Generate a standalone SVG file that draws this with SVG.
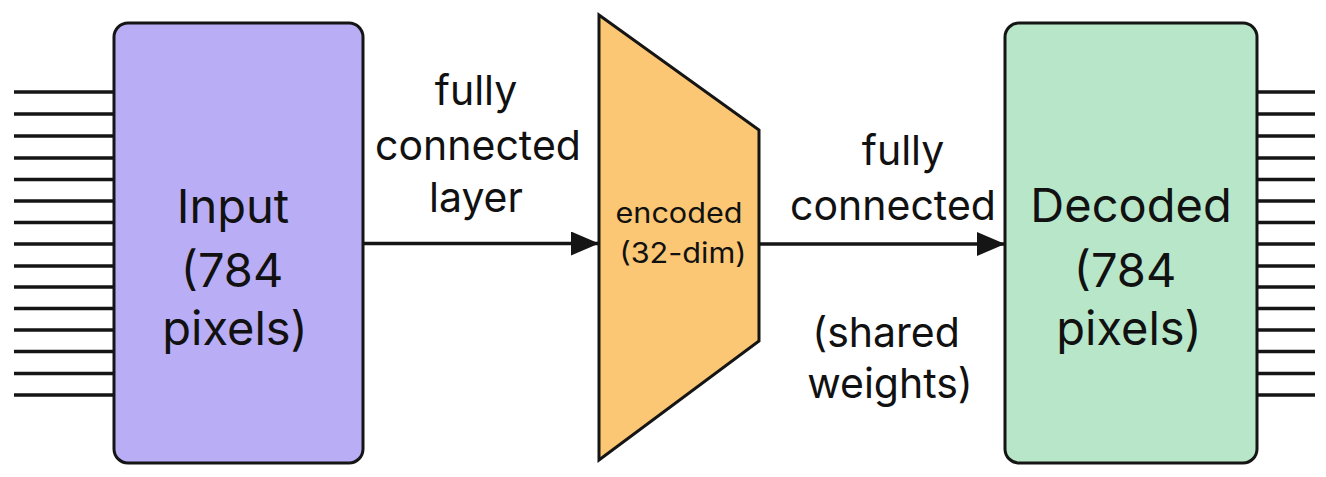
<svg xmlns="http://www.w3.org/2000/svg" width="1326" height="477" viewBox="0 0 1326 477">
<defs>
<style>
.box{stroke:#151515;stroke-width:3}
.pin{stroke:#151515;stroke-width:3.4}
.big{font-family:Inter,"Liberation Sans",sans-serif;font-size:47px;fill:#111;text-anchor:middle}
.lbl{font-family:Inter,"Liberation Sans",sans-serif;font-size:41px;fill:#111;text-anchor:middle}
.sm{font-family:Inter,"Liberation Sans",sans-serif;font-size:28px;fill:#111;text-anchor:middle}
.conn{stroke:#151515;stroke-width:3.4;fill:none}
</style>
<marker id="ah" markerWidth="28" markerHeight="24" viewBox="0 0 28 24" refX="27" refY="12" markerUnits="userSpaceOnUse" orient="auto">
<path d="M0,0 L28,12 L0,24 Z" fill="#151515"/>
</marker>
</defs>
<rect width="1326" height="477" fill="#ffffff"/>
<g id="input">
<g class="pin">
<line x1="14" y1="92" x2="114" y2="92"/>
<line x1="14" y1="114" x2="114" y2="114"/>
<line x1="14" y1="136" x2="114" y2="136"/>
<line x1="14" y1="158" x2="114" y2="158"/>
<line x1="14" y1="179.5" x2="114" y2="179.5"/>
<line x1="14" y1="201" x2="114" y2="201"/>
<line x1="14" y1="222.5" x2="114" y2="222.5"/>
<line x1="14" y1="244" x2="114" y2="244"/>
<line x1="14" y1="266" x2="114" y2="266"/>
<line x1="14" y1="287" x2="114" y2="287"/>
<line x1="14" y1="308.5" x2="114" y2="308.5"/>
<line x1="14" y1="330" x2="114" y2="330"/>
<line x1="14" y1="351.5" x2="114" y2="351.5"/>
<line x1="14" y1="373.5" x2="114" y2="373.5"/>
<line x1="14" y1="395" x2="114" y2="395"/>
</g>
<rect class="box" x="114" y="23" width="249" height="440" rx="14" fill="#B9AEF5"/>
<text class="big" x="233" y="223">Input</text>
<text class="big" x="232" y="287">(784</text>
<text class="big" x="235" y="345">pixels)</text>
</g>
<g id="encoded">
<polygon class="box" points="599,15 759,130 759,341 599,460" fill="#FBC774"/>
<text class="sm" x="679" y="223" textLength="127" lengthAdjust="spacingAndGlyphs">encoded</text>
<text class="sm" x="683" y="263" textLength="127" lengthAdjust="spacingAndGlyphs">(32-dim)</text>
</g>
<g id="decoded">
<g class="pin">
<line x1="1257" y1="92" x2="1315" y2="92"/>
<line x1="1257" y1="114" x2="1315" y2="114"/>
<line x1="1257" y1="136" x2="1315" y2="136"/>
<line x1="1257" y1="158" x2="1315" y2="158"/>
<line x1="1257" y1="179.5" x2="1315" y2="179.5"/>
<line x1="1257" y1="201" x2="1315" y2="201"/>
<line x1="1257" y1="222.5" x2="1315" y2="222.5"/>
<line x1="1257" y1="244" x2="1315" y2="244"/>
<line x1="1257" y1="266" x2="1315" y2="266"/>
<line x1="1257" y1="287" x2="1315" y2="287"/>
<line x1="1257" y1="308.5" x2="1315" y2="308.5"/>
<line x1="1257" y1="330" x2="1315" y2="330"/>
<line x1="1257" y1="351.5" x2="1315" y2="351.5"/>
<line x1="1257" y1="373.5" x2="1315" y2="373.5"/>
<line x1="1257" y1="395" x2="1315" y2="395"/>
</g>
<rect class="box" x="1005" y="23" width="252" height="440" rx="14" fill="#B8E6C9"/>
<text class="big" x="1131" y="222">Decoded</text>
<text class="big" x="1125" y="287">(784</text>
<text class="big" x="1129" y="345">pixels)</text>
</g>
<g id="connectors">
<line class="conn" x1="363" y1="243.5" x2="598" y2="243.5" marker-end="url(#ah)"/>
<line class="conn" x1="759" y1="244" x2="1004" y2="244" marker-end="url(#ah)"/>
<text class="lbl" x="476" y="105">fully</text>
<text class="lbl" x="478" y="160">connected</text>
<text class="lbl" x="476" y="212">layer</text>
<text class="lbl" x="903" y="165">fully</text>
<text class="lbl" x="893" y="220">connected</text>
<text class="lbl" x="886" y="347">(shared</text>
<text class="lbl" x="890" y="398">weights)</text>
</g>
</svg>
